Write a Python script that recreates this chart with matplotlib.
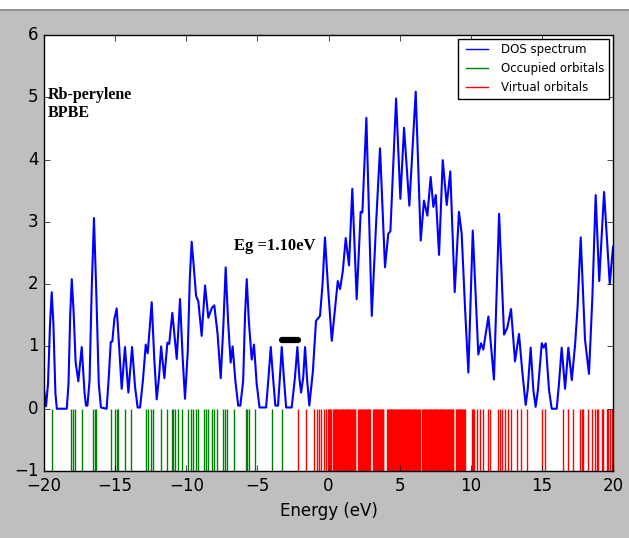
import matplotlib
matplotlib.use('Agg')
import matplotlib.pyplot as plt
from matplotlib.lines import Line2D

# DOS curve (energy in eV, DOS)
dos_x = [-20.0, -19.86, -19.72, -19.58, -19.46, -19.34, -19.2, -19.1, -18.4, -18.28,
         -18.16, -18.05, -17.92, -17.78, -17.59, -17.35, -17.15, -17.05, -16.95, -16.8,
         -16.65, -16.49, -16.33, -16.15, -16.0, -15.6, -15.45, -15.31, -15.2, -15.05,
         -14.89, -14.72, -14.54, -14.31, -14.07, -13.81, -13.6, -13.42, -13.25, -13.05,
         -12.85, -12.71, -12.43, -12.25, -12.08, -11.92, -11.77, -11.54, -11.33, -11.2,
         -10.98, -10.67, -10.44, -10.25, -10.09, -9.9, -9.75, -9.62, -9.48, -9.31,
         -9.15, -8.92, -8.68, -8.45, -8.2, -8.03, -7.8, -7.58, -7.4, -7.23,
         -7.06, -6.88, -6.74, -6.55, -6.35, -6.2, -6.0, -5.87, -5.75, -5.6,
         -5.40, -5.24, -5.05, -4.85, -4.39, -4.22, -4.06, -3.9, -3.74, -3.55,
         -3.42, -3.29, -3.14, -2.98, -2.59, -2.36, -2.19, -2.05, -1.93, -1.78,
         -1.65, -1.5, -1.35, -1.1, -0.88, -0.60, -0.42, -0.25, -0.05, 0.23,
         0.45, 0.65, 0.81, 1.0, 1.21, 1.44, 1.67, 1.98, 2.26, 2.38,
         2.66, 3.04, 3.35, 3.62, 3.97, 4.20, 4.35, 4.75, 5.05, 5.31,
         5.68, 6.13, 6.48, 6.71, 6.95, 7.18, 7.37, 7.54, 7.77, 8.03,
         8.31, 8.56, 8.87, 9.17, 9.36, 9.6, 9.83, 10.14, 10.53, 10.72,
         10.88, 11.24, 11.63, 11.99, 12.34, 12.57, 12.83, 13.11, 13.39, 13.62,
         13.86, 14.0, 14.21, 14.4, 14.56, 14.72, 14.99, 15.13, 15.27, 15.5,
         15.69, 16.04, 16.2, 16.39, 16.63, 16.86, 17.10, 17.33, 17.5, 17.73,
         18.03, 18.31, 18.55, 18.78, 19.03, 19.37, 19.77, 20.0]
dos_y = [0.30, 0.04, 0.4, 1.35, 1.87, 1.35, 0.25, 0.0, 0.0, 0.4,
         1.5, 2.08, 1.55, 0.75, 0.44, 0.99, 0.25, 0.05, 0.05, 0.45,
         1.9, 3.06, 1.9, 0.4, 0.02, 0.0, 0.5, 1.07, 1.08, 1.45,
         1.61, 1.0, 0.32, 0.99, 0.26, 0.99, 0.35, 0.02, 0.02, 0.45,
         1.03, 0.89, 1.71, 0.8, 0.15, 0.5, 1.00, 0.49, 1.06, 1.04,
         1.54, 0.80, 1.76, 0.8, 0.16, 0.9, 2.1, 2.68, 2.3, 1.81,
         1.72, 1.17, 1.98, 1.46, 1.62, 1.66, 1.2, 0.49, 1.3, 2.27,
         1.4, 0.74, 1.00, 0.45, 0.05, 0.05, 0.45, 1.5, 2.08, 1.4,
         0.79, 1.03, 0.4, 0.02, 0.02, 0.5, 0.99, 0.5, 0.05, 0.05,
         0.5, 0.99, 0.5, 0.02, 0.02, 0.5, 0.99, 0.5, 0.26, 0.5,
         0.99, 0.45, 0.05, 0.6, 1.41, 1.49, 2.0, 2.75, 2.0, 1.09,
         1.6, 2.05, 1.92, 2.2, 2.74, 2.30, 3.53, 1.76, 3.16, 3.15,
         4.67, 1.49, 3.0, 4.18, 2.27, 2.81, 2.85, 4.98, 3.37, 4.51,
         3.26, 5.09, 2.70, 3.34, 3.10, 3.72, 3.24, 3.43, 2.47, 3.99,
         3.27, 3.81, 1.87, 3.16, 2.81, 1.6, 0.58, 2.86, 0.87, 1.05,
         0.95, 1.48, 0.47, 3.13, 1.19, 1.30, 1.60, 0.76, 1.20, 0.6,
         0.06, 0.3, 0.98, 0.3, 0.03, 0.3, 1.05, 0.98, 1.05, 0.3,
         0.0, 0.0, 0.4, 0.98, 0.32, 0.98, 0.46, 1.02, 1.6, 2.75,
         1.11, 0.56, 1.8, 3.43, 2.05, 3.48, 2.00, 2.60]

# orbital energies (eV)
occupied = [-19.42, -18.10, -17.98, -17.82, -17.35, -16.53, -16.41, -16.34, -15.29, -15.01,
            -14.89, -14.82, -14.31, -13.88, -12.83, -12.67, -12.48, -12.36, -11.77, -11.37,
            -11.02, -10.91, -10.79, -10.60, -10.32, -9.90, -9.67, -9.50, -9.34, -9.15,
            -8.73, -8.61, -8.45, -8.21, -8.03, -7.86, -7.40, -7.28, -7.11, -6.62,
            -5.82, -5.71, -5.59, -5.17, -3.99, -3.25]
virtual = [-2.12, -1.60, -1.00, -0.83, -0.67, -0.53, -0.32, -0.20, -0.06, 0.00,
           0.06, 0.12, 0.18, 0.33, 0.38, 0.45, 0.50, 0.56, 0.63, 0.68, 0.74,
           0.80, 0.87, 0.92, 0.98, 1.04, 1.11, 1.16, 1.22, 1.28, 1.35, 1.40,
           1.46, 1.52, 1.59, 1.64, 1.70, 1.76, 1.83, 1.88, 2.08, 2.14, 2.20,
           2.27, 2.32, 2.38, 2.44, 2.51, 2.56, 2.62, 2.68, 2.75, 2.80, 2.86,
           2.92, 3.14, 3.20, 3.27, 3.32, 3.38, 3.44, 3.51, 3.56, 3.62, 3.68,
           3.75, 3.80, 3.86, 4.12, 4.18, 4.24, 4.31, 4.36, 4.42, 4.48, 4.55,
           4.60, 4.66, 4.72, 4.78, 4.84, 4.90, 4.96, 5.02, 5.08, 5.14, 5.20,
           5.26, 5.32, 5.38, 5.44, 5.50, 5.56, 5.62, 5.68, 5.74, 5.80, 5.86,
           5.92, 5.98, 6.04, 6.10, 6.16, 6.22, 6.28, 6.34, 6.40, 6.56, 6.62,
           6.69, 6.74, 6.80, 6.86, 6.93, 6.98, 7.04, 7.10, 7.17, 7.22, 7.28,
           7.34, 7.41, 7.46, 7.52, 7.58, 7.65, 7.70, 7.76, 7.82, 7.89, 7.94,
           8.00, 8.06, 8.13, 8.18, 8.24, 8.30, 8.37, 8.42, 8.48, 8.54, 8.61,
           8.66, 8.72, 8.78, 8.96, 9.02, 9.09, 9.14, 9.20, 9.26, 9.33, 9.38,
           9.44, 9.50, 9.57, 10.08, 10.16, 10.24, 10.42, 10.65, 10.89, 11.20,
           11.36, 11.94, 12.06, 12.18, 12.41, 12.64, 12.83, 13.23, 13.53, 13.93,
           14.99, 15.22, 16.51, 16.86, 17.21, 17.68, 17.80, 17.91, 18.27, 18.50,
           18.74, 18.86, 18.97, 19.21, 19.32, 19.56, 19.67, 19.79, 19.91]
homo = -3.25
lumo = -2.15

plt.style.use('classic')
fig = plt.figure(figsize=(6.29, 5.38), dpi=100)
fig.patches.append(plt.Rectangle((0, 0.983), 1, 0.017, transform=fig.transFigure,
                                 facecolor='white', edgecolor='none'))
fig.patches.append(plt.Rectangle((0, 0.980), 1, 0.003, transform=fig.transFigure,
                                 facecolor='#909090', edgecolor='none'))
ax = fig.add_axes([0.070, 0.1245, 0.9046, 0.8105])

ax.plot(dos_x, dos_y, color='b', lw=1.5, solid_joinstyle='round')
ax.vlines(occupied, -1, 0, color='g', lw=1)
ax.vlines(virtual, -1, 0, color='r', lw=1)
ax.plot([homo, lumo], [1.1, 1.1], color='k', lw=4.5, solid_capstyle='round')

ax.text(-19.75, 5.03, 'Rb-perylene', family='Liberation Serif', weight='bold',
        fontsize=11.5, va='center')
ax.text(-19.75, 4.74, 'BPBE', family='Liberation Serif', weight='bold',
        fontsize=11.5, va='center')
ax.text(-6.64, 2.61, 'Eg =1.10eV', family='Liberation Serif', weight='bold',
        fontsize=12, va='center')

ax.set_xlim(-20, 20)
ax.set_ylim(-1, 6)
ax.set_xlabel('Energy (eV)', fontsize=12)
ax.tick_params(labelsize=12)

handles = [Line2D([], [], color='b'), Line2D([], [], color='g'), Line2D([], [], color='r')]
ax.legend(handles, ['DOS spectrum', 'Occupied orbitals', 'Virtual orbitals'],
          loc='upper right', fontsize=8.5, borderaxespad=0.3, handlelength=2.5)

fig.savefig('out.png', dpi=100, facecolor=fig.get_facecolor())
